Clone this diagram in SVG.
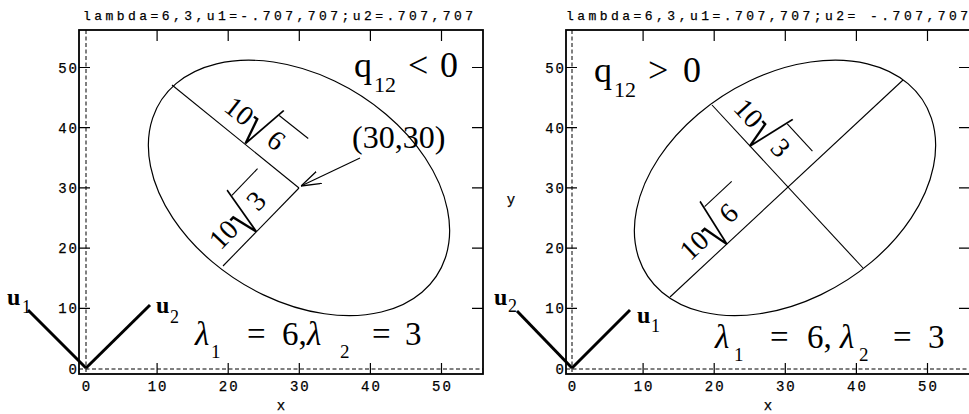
<svg xmlns="http://www.w3.org/2000/svg" width="969" height="414" viewBox="0 0 969 414">
<style>
.frame{fill:none;stroke:#000;stroke-width:1.8}
.dash{fill:none;stroke:#000;stroke-width:1;stroke-dasharray:4 2.5}
.tick{stroke:#000;stroke-width:1.2}
.mono{font-family:"Liberation Mono","DejaVu Sans Mono",monospace;font-size:14px;fill:#000;stroke:#000;stroke-width:0.25}
.ttl{font-family:"Liberation Mono","DejaVu Sans Mono",monospace;font-size:13px;fill:#000;stroke:#000;stroke-width:0.25}
.ell{fill:none;stroke:#000;stroke-width:1.2}
.ax{stroke:#000;stroke-width:1.1;fill:none}
.vec{stroke:#000;stroke-width:3;stroke-linecap:butt}
.ser{font-family:"Liberation Serif","Times New Roman",serif;fill:#000}
.big{font-size:36px}
.sub{font-size:22px}
.lam{font-size:33px}
.lsub{font-size:19px}
.rad{font-size:28px}
.sq{font-size:46px}
.ub{font-family:"Liberation Serif","Times New Roman",serif;font-weight:bold;font-size:24px}
.us{font-family:"Liberation Serif","Times New Roman",serif;font-size:18px}
</style>
<defs>
<marker id="ah" viewBox="0 0 20 14" refX="20" refY="7" markerWidth="20" markerHeight="14" markerUnits="userSpaceOnUse" orient="auto">
<path d="M0,0.5 L20,7 L0,13.5" fill="none" stroke="#000" stroke-width="1.3"/>
</marker>
</defs>
<rect x="0" y="0" width="969" height="414" fill="#fff"/>

<!-- LEFT PLOT -->
<g id="plot-left">
<text class="ttl" x="83" y="20" textLength="390" lengthAdjust="spacing">lambda=6,3,u1=-.707,707;u2=.707,707</text>
<rect class="frame" x="79" y="30" width="404" height="344"/>
<line class="dash" x1="86" y1="30" x2="86" y2="374"/>
<line class="dash" x1="79" y1="369" x2="483" y2="369"/>
<g class="tick">
<path d="M157.1,30v11M228.2,30v11M299.3,30v11M370.4,30v11M441.5,30v11"/>
<path d="M157.1,374v-11M228.2,374v-11M299.3,374v-11M370.4,374v-11M441.5,374v-11"/>
<path d="M79,308.3h11M79,248.1h11M79,187.9h11M79,127.7h11M79,67.5h11"/>
<path d="M483,308.3h-11M483,248.1h-11M483,187.9h-11M483,127.7h-11M483,67.5h-11"/>
</g>
<g class="mono" text-anchor="end" letter-spacing="2">
<text x="79" y="72.5">50</text><text x="79" y="132.7">40</text><text x="79" y="192.9">30</text>
<text x="79" y="253.1">20</text><text x="79" y="313.3">10</text><text x="79" y="373.5">0</text>
</g>
<g class="mono" text-anchor="middle" letter-spacing="2">
<text x="87" y="391">0</text><text x="158.1" y="391">10</text><text x="229.2" y="391">20</text>
<text x="300.3" y="391">30</text><text x="371.4" y="391">40</text><text x="442.5" y="391">50</text>
</g>
<text class="mono" x="281" y="410" text-anchor="middle">x</text>
</g>

<g id="ellipse-left">
<g transform="matrix(7.1 0 0 -6.02 86 368.5)">
<ellipse class="ell" vector-effect="non-scaling-stroke" cx="30" cy="30" rx="24.5" ry="17.32" transform="rotate(135 30 30)"/>
</g>
</g>

<g id="connectors">
<line class="ax" x1="172" y1="85" x2="299" y2="188"/>
<line class="ax" x1="299" y1="188" x2="223" y2="266"/>
<line class="ax" x1="670" y1="297" x2="903" y2="80"/>
<line class="ax" x1="712" y1="105" x2="863" y2="268"/>
<line class="ax" x1="360" y1="158" x2="301" y2="186" marker-end="url(#ah)"/>
<line class="vec" x1="86" y1="368" x2="28" y2="310"/>
<line class="vec" x1="86" y1="368" x2="150" y2="305"/>
<line class="vec" x1="572" y1="368" x2="517" y2="311"/>
<line class="vec" x1="572" y1="368" x2="630" y2="310"/>
</g>

<g id="label-left-major" transform="translate(245,142.7) rotate(38.3)">
<text class="ser rad" x="-24" y="-12" text-anchor="middle">10</text>
<text class="ser sq" transform="scale(0.85,1.36)" x="-12" y="0">√</text>
<line class="ax" x1="10" y1="-42.5" x2="47" y2="-42.5"/>
<text class="ser rad" x="23" y="-12" text-anchor="middle">6</text>
</g>
<g id="label-left-minor" transform="translate(255.6,232) rotate(-46.1)">
<text class="ser rad" x="-24" y="-12" text-anchor="middle">10</text>
<text class="ser sq" transform="scale(0.85,1.36)" x="-12" y="0">√</text>
<line class="ax" x1="10" y1="-42.5" x2="47" y2="-42.5"/>
<text class="ser rad" x="23" y="-12" text-anchor="middle">3</text>
</g>
<g id="label-q-left">
<text class="ser big" x="354" y="77">q</text>
<text class="ser sub" x="374" y="92">12</text>
<text class="ser big" x="408" y="77">&lt;</text>
<text class="ser big" x="440" y="77">0</text>
</g>
<g id="label-center">
<text class="ser" font-size="32" x="352" y="148">(30,30)</text>
</g>
<g id="label-lambda-left">
<text class="ser lam" font-style="italic" x="195" y="345">λ</text>
<text class="ser lsub" x="211" y="358">1</text>
<text class="ser lam" x="247" y="345">=</text>
<text class="ser lam" x="282" y="345">6,</text>
<text class="ser lam" font-style="italic" x="307" y="345">λ</text>
<text class="ser lsub" x="340" y="358">2</text>
<text class="ser lam" x="372" y="345">=</text>
<text class="ser lam" x="405" y="345">3</text>
</g>
<g id="vec-labels-left">
<text class="ub" x="7" y="305">u</text><text class="us" x="22" y="313">1</text>
<text class="ub" x="156" y="313">u</text><text class="us" x="170" y="323">2</text>
</g>

<!-- RIGHT PLOT -->
<g id="plot-right">
<text class="ttl" x="566" y="20" textLength="402" lengthAdjust="spacing">lambda=6,3,u1=.707,707;u2= -.707,707</text>
<rect class="frame" x="566" y="30" width="404" height="344"/>
<line class="dash" x1="572" y1="30" x2="572" y2="374"/>
<line class="dash" x1="566" y1="369" x2="970" y2="369"/>
<g class="tick">
<path d="M643.1,30v11M714.2,30v11M785.3,30v11M856.4,30v11M927.5,30v11"/>
<path d="M643.1,374v-11M714.2,374v-11M785.3,374v-11M856.4,374v-11M927.5,374v-11"/>
<path d="M566,308.3h11M566,248.1h11M566,187.9h11M566,127.7h11M566,67.5h11"/>
<path d="M970,308.3h-11M970,248.1h-11M970,187.9h-11M970,127.7h-11M970,67.5h-11"/>
</g>
<g class="mono" text-anchor="end" letter-spacing="2">
<text x="566" y="72.5">50</text><text x="566" y="132.7">40</text><text x="566" y="192.9">30</text>
<text x="566" y="253.1">20</text><text x="566" y="313.3">10</text><text x="566" y="373.5">0</text>
</g>
<g class="mono" text-anchor="middle" letter-spacing="2">
<text x="573" y="391">0</text><text x="644.1" y="391">10</text><text x="715.2" y="391">20</text>
<text x="786.3" y="391">30</text><text x="857.4" y="391">40</text><text x="928.5" y="391">50</text>
</g>
<text class="mono" x="768" y="410" text-anchor="middle">x</text>
<text class="mono" x="511" y="204" text-anchor="middle">y</text>
</g>

<g id="ellipse-right">
<g transform="matrix(7.1 0 0 -6.02 572 368.5)">
<ellipse class="ell" vector-effect="non-scaling-stroke" cx="30" cy="30" rx="24.5" ry="17.32" transform="rotate(45 30 30)"/>
</g>
</g>

<g id="label-right-minor" transform="translate(749.3,145.4) rotate(47.2)">
<text class="ser rad" x="-24" y="-12" text-anchor="middle">10</text>
<text class="ser sq" transform="scale(0.85,1.36)" x="-12" y="0">√</text>
<line class="ax" x1="10" y1="-42.5" x2="47" y2="-42.5"/>
<text class="ser rad" x="23" y="-12" text-anchor="middle">3</text>
</g>
<g id="label-right-major" transform="translate(726.3,244.5) rotate(-43)">
<text class="ser rad" x="-24" y="-12" text-anchor="middle">10</text>
<text class="ser sq" transform="scale(0.85,1.36)" x="-12" y="0">√</text>
<line class="ax" x1="10" y1="-42.5" x2="47" y2="-42.5"/>
<text class="ser rad" x="23" y="-12" text-anchor="middle">6</text>
</g>
<g id="label-q-right">
<text class="ser big" x="594" y="82">q</text>
<text class="ser sub" x="614" y="97">12</text>
<text class="ser big" x="648" y="82">&gt;</text>
<text class="ser big" x="683" y="82">0</text>
</g>
<g id="label-lambda-right">
<text class="ser lam" font-style="italic" x="715" y="348">λ</text>
<text class="ser lsub" x="734" y="361">1</text>
<text class="ser lam" x="770" y="348">=</text>
<text class="ser lam" x="807" y="348">6,</text>
<text class="ser lam" font-style="italic" x="840" y="348">λ</text>
<text class="ser lsub" x="859" y="361">2</text>
<text class="ser lam" x="893" y="348">=</text>
<text class="ser lam" x="928" y="348">3</text>
</g>
<g id="vec-labels-right">
<text class="ub" x="494" y="305">u</text><text class="us" x="508" y="312">2</text>
<text class="ub" x="637" y="323">u</text><text class="us" x="651" y="332">1</text>
</g>
</svg>
